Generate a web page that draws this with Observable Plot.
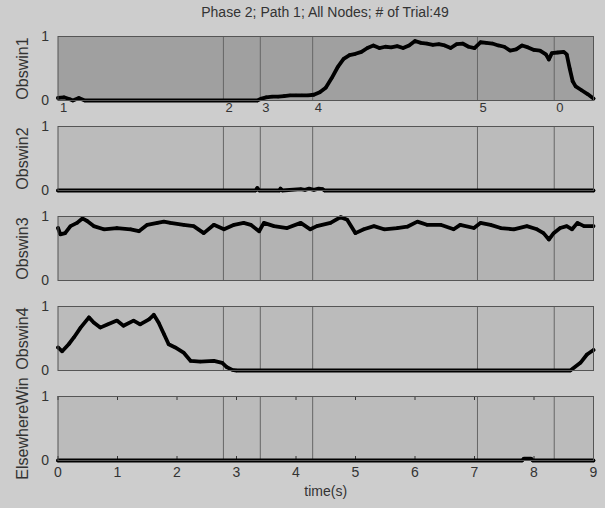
<!DOCTYPE html>
<html>
<head>
<meta charset="utf-8">
<script src="https://cdn.jsdelivr.net/npm/d3@7"></script>
<script src="https://cdn.jsdelivr.net/npm/@observablehq/plot@0.6"></script>
<style>
  html, body { margin: 0; padding: 0; background: #cdcdcd; }
  body { width: 605px; height: 508px; overflow: hidden; font-family: "Liberation Sans", Arial, sans-serif; color: #333; }
  #title { height: 26px; line-height: 24px; padding-left: 57px; width: 536px; text-align: center; font-size: 14px; }
  svg { display: block; overflow: visible; }
</style>
</head>
<body>
<div id="title">Phase 2; Path 1; All Nodes; # of Trial:49</div>
<div id="chart"></div>
<script>
// ---- data ----
const eventTimes = [0, 2.78, 3.40, 4.28, 7.05, 8.34];
const eventLabels = ["1", "2", "3", "4", "5", "0"];
const panelNames = ["Obswin1", "Obswin2", "Obswin3", "Obswin4", "ElsewhereWin"];
const panelFills = ["#a0a0a0", "#bbbbbb", "#b3b3b3", "#bbbbbb", "#bbbbbb"];
const xTicks = [0, 1, 2, 3, 4, 5, 6, 7, 8, 9];
const yTicks = [0, 1];

// [time (s), value]
const obswin1 = [[0,0.04],[0.1,0.05],[0.2,0.02],[0.25,0.0],[0.35,0.04],[0.45,0.0],[3.35,0],[3.42,0.03],[3.5,0.05],[3.6,0.06],[3.7,0.06],[3.8,0.07],[3.9,0.08],[4.0,0.08],[4.1,0.08],[4.2,0.08],[4.3,0.09],[4.4,0.13],[4.5,0.2],[4.6,0.35],[4.7,0.52],[4.8,0.65],[4.9,0.71],[5.0,0.73],[5.1,0.76],[5.2,0.82],[5.3,0.86],[5.4,0.82],[5.5,0.84],[5.6,0.83],[5.7,0.85],[5.8,0.82],[5.9,0.86],[6.0,0.93],[6.1,0.9],[6.2,0.89],[6.3,0.87],[6.4,0.88],[6.5,0.86],[6.6,0.82],[6.7,0.88],[6.8,0.89],[6.9,0.84],[7.0,0.82],[7.1,0.91],[7.2,0.9],[7.3,0.89],[7.4,0.86],[7.5,0.84],[7.6,0.78],[7.7,0.8],[7.8,0.86],[7.9,0.83],[8.0,0.79],[8.1,0.78],[8.2,0.72],[8.25,0.64],[8.3,0.74],[8.4,0.75],[8.5,0.76],[8.55,0.72],[8.6,0.5],[8.65,0.3],[8.7,0.22],[8.8,0.16],[8.9,0.1],[9.0,0.03]];
const obswin2 = [[0,0],[3.32,0],[3.35,0.04],[3.38,0],[3.72,0],[3.74,0.03],[3.77,0],[4.08,0.02],[4.15,0.01],[4.22,0.03],[4.3,0.01],[4.38,0.03],[4.45,0.02],[4.48,0],[9,0]];
const obswin3 = [[0,0.82],[0.04,0.72],[0.12,0.74],[0.21,0.85],[0.32,0.9],[0.41,0.97],[0.49,0.93],[0.6,0.85],[0.77,0.8],[0.99,0.82],[1.22,0.8],[1.36,0.77],[1.5,0.87],[1.67,0.9],[1.78,0.92],[1.89,0.9],[2.11,0.87],[2.28,0.85],[2.45,0.74],[2.62,0.87],[2.79,0.8],[2.96,0.87],[3.12,0.9],[3.24,0.87],[3.38,0.77],[3.46,0.9],[3.63,0.85],[3.85,0.82],[4.08,0.9],[4.24,0.8],[4.35,0.85],[4.58,0.9],[4.75,0.99],[4.86,0.95],[5.0,0.74],[5.14,0.8],[5.31,0.85],[5.48,0.8],[5.7,0.82],[5.87,0.84],[6.04,0.92],[6.2,0.87],[6.43,0.87],[6.65,0.8],[6.76,0.87],[6.99,0.82],[7.1,0.9],[7.27,0.87],[7.44,0.82],[7.66,0.8],[7.88,0.85],[8.05,0.8],[8.16,0.74],[8.25,0.64],[8.33,0.74],[8.44,0.82],[8.55,0.85],[8.64,0.8],[8.73,0.9],[8.84,0.85],[9.0,0.85]];
const obswin4 = [[0,0.36],[0.07,0.3],[0.18,0.41],[0.27,0.52],[0.38,0.67],[0.52,0.83],[0.6,0.75],[0.71,0.67],[0.83,0.72],[0.99,0.78],[1.1,0.7],[1.27,0.78],[1.38,0.72],[1.53,0.8],[1.61,0.87],[1.69,0.75],[1.78,0.57],[1.86,0.41],[1.97,0.36],[2.11,0.28],[2.23,0.15],[2.39,0.14],[2.62,0.15],[2.76,0.12],[2.84,0.05],[2.93,0.01],[3.0,0],[8.61,0],[8.78,0.12],[8.89,0.25],[9.0,0.32]];
const elsewhereWin = [[0,0],[7.8,0],[7.83,0.03],[7.95,0.03],[7.98,0],[9,0]];

const series = [obswin1, obswin2, obswin3, obswin4, elsewhereWin];

// ---- drawing ----
const chart = document.getElementById("chart");
const FONT = "'Liberation Sans', Arial, sans-serif";

series.forEach((data, i) => {
  const isTop = i === 0;
  const isBottom = i === series.length - 1;
  const marks = [
    Plot.frame({fill: panelFills[i], stroke: "none"}),
    Plot.ruleX(eventTimes.slice(1), {stroke: "#666", strokeWidth: 1})
  ];
  if (isBottom) {
    marks.push(Plot.ruleX(xTicks, {stroke: "#333", insetTop: 60}));
    marks.push(Plot.ruleX(xTicks, {stroke: "#333", insetBottom: 60}));
  }
  marks.push(
    Plot.line(data, {x: d => d[0], y: d => d[1], stroke: "#000", strokeWidth: 3.8, strokeLinejoin: "round", strokeLinecap: "round"}),
    Plot.dot(data, {x: d => d[0], y: d => d[1], r: 1.7, fill: "#000", stroke: "none"}),
    Plot.frame({stroke: "#555", strokeWidth: 1}),
    Plot.text([panelNames[i]], {frameAnchor: "left", rotate: -90, dx: -35.5, fontSize: 16, fill: "#333", textAnchor: "middle"})
  );
  if (isTop) {
    marks.push(Plot.text(eventLabels, {x: (d, j) => eventTimes[j], frameAnchor: "bottom", textAnchor: "start", lineAnchor: "top", dx: 2, dy: 2, fontSize: 13, fill: "#333"}));
  }
  if (isBottom) {
    marks.push(Plot.text(["time(s)"], {frameAnchor: "bottom", dy: 35, fontSize: 14, fill: "#333"}));
  }
  const p = Plot.plot({
    width: 605,
    height: isBottom ? 122 : 90,
    marginLeft: 57.5,
    marginRight: 12,
    marginTop: 10,
    marginBottom: isBottom ? 48 : 16,
    style: {background: "transparent", fontFamily: FONT, fontSize: "14px", color: "#333", overflow: "visible"},
    x: isBottom
      ? {domain: [0, 9], ticks: xTicks, tickSize: 0, tickPadding: 7, tickFormat: d => String(d), label: null}
      : {domain: [0, 9], axis: null},
    y: {domain: [0, 1], ticks: yTicks, tickSize: 0, tickPadding: 9, tickFormat: d => String(d), label: null},
    marks
  });
  chart.appendChild(p);
});
</script>
</body>
</html>
